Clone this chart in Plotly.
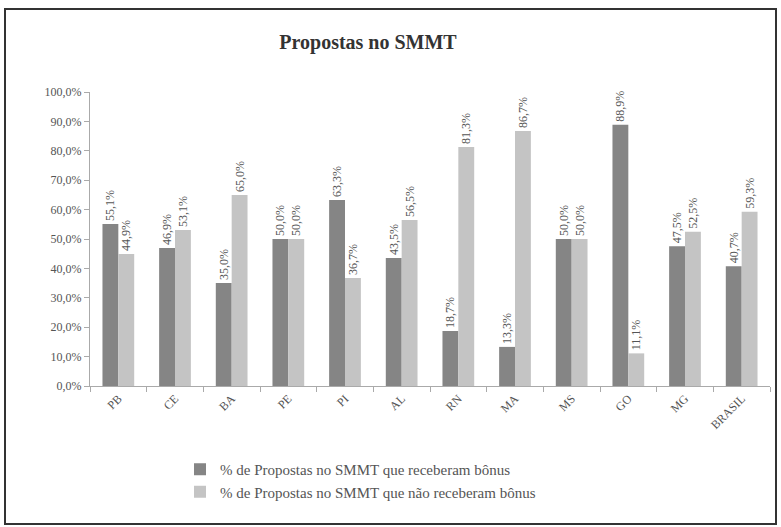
import plotly.graph_objects as go

categories = ["PB", "CE", "BA", "PE", "PI", "AL", "RN", "MA", "MS", "GO", "MG", "BRASIL"]
recebeu = [55.1, 46.9, 35.0, 50.0, 63.3, 43.5, 18.7, 13.3, 50.0, 88.9, 47.5, 40.7]
nao_recebeu = [44.9, 53.1, 65.0, 50.0, 36.7, 56.5, 81.3, 86.7, 50.0, 11.1, 52.5, 59.3]
y_ticks = [0, 10, 20, 30, 40, 50, 60, 70, 80, 90, 100]

def fmt(v):
    return f"{v:.1f}%".replace(".", ",")

font_family = "Liberation Serif"
txt_color = "#555555"

fig = go.Figure()
fig.add_trace(go.Bar(
    x=categories, y=recebeu, name="% de Propostas no SMMT que receberam bônus",
    marker=dict(color="#858585", line=dict(width=0)),
    text=[fmt(v) for v in recebeu], textposition="outside", textangle=-90,
    textfont=dict(size=12, color=txt_color, family=font_family), cliponaxis=False,
))
fig.add_trace(go.Bar(
    x=categories, y=nao_recebeu, name="% de Propostas no SMMT que não receberam bônus",
    marker=dict(color="#c4c4c4", line=dict(width=0)),
    text=[fmt(v) for v in nao_recebeu], textposition="outside", textangle=-90,
    textfont=dict(size=12, color=txt_color, family=font_family), cliponaxis=False,
))

ml, mr, mt, mb = 90, 11, 92, 141
W, H = 781, 527
pw, ph = W - ml - mr, H - mt - mb

def px_x(p):
    return (p - ml) / pw

def px_y(p):
    return (H - mb - p) / ph

fig.update_layout(
    width=W, height=H,
    margin=dict(l=ml, r=mr, t=mt, b=mb),
    paper_bgcolor="white", plot_bgcolor="white",
    barmode="group", bargap=0.44, bargroupgap=0,
    font=dict(family=font_family, color=txt_color, size=12),
    title=dict(text="<b>Propostas no SMMT</b>", xref="container", x=368 / W, xanchor="center",
               yref="container", y=1 - 42 / H, yanchor="middle",
               font=dict(size=20, color="#333333", family=font_family)),
    showlegend=True,
    legend=dict(orientation="v", x=px_x(180), y=px_y(453), xanchor="left", yanchor="top",
                font=dict(size=15, color=txt_color, family=font_family),
                itemwidth=30, tracegroupgap=0, bgcolor="rgba(0,0,0,0)"),
    uniformtext=dict(minsize=8, mode="show"),
    xaxis=dict(showline=True, linecolor="#aaaaaa", linewidth=1, ticks="outside",
               tickson="boundaries", ticklen=5, tickcolor="#aaaaaa", tickangle=-45,
               tickfont=dict(size=12, color=txt_color, family=font_family), showgrid=False),
    yaxis=dict(range=[0, 100], tickvals=y_ticks, ticktext=[fmt(v) for v in y_ticks],
               showline=True, linecolor="#aaaaaa", linewidth=1, ticks="outside",
               ticklen=5, tickcolor="#aaaaaa", showgrid=False, zeroline=False,
               tickfont=dict(size=12, color=txt_color, family=font_family)),
    shapes=[dict(type="rect", xref="paper", yref="paper",
                 x0=px_x(5), x1=px_x(776), y0=px_y(524), y1=px_y(9),
                 line=dict(color="#333333", width=2), fillcolor="rgba(0,0,0,0)", layer="below")],
)

fig.write_html("out.html")
